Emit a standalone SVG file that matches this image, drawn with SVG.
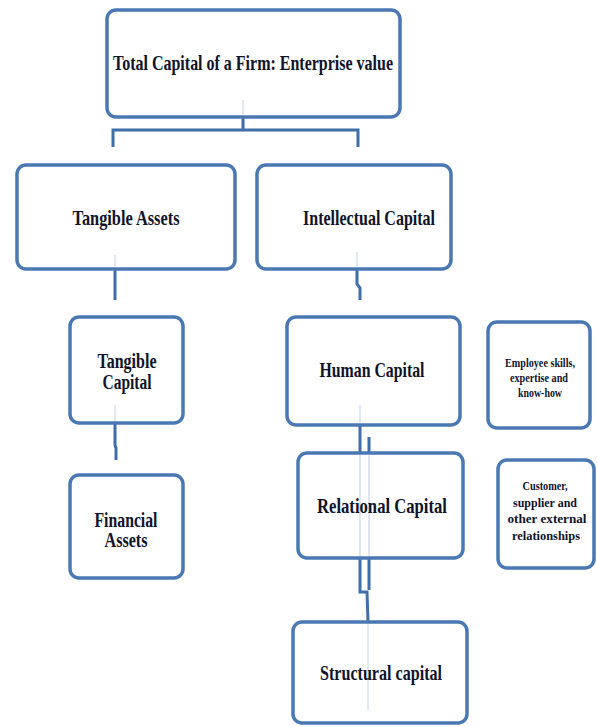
<svg xmlns="http://www.w3.org/2000/svg" width="597" height="727" viewBox="0 0 597 727">
  <style>
    .box { fill: #ffffff; stroke: #4a78b3; stroke-width: 3.5; }
    .link { fill: none; stroke: #3f6ea8; stroke-width: 3; }
    .ghost { fill: none; stroke: #d6e0ee; stroke-width: 1.5; }
    text { font-family: "Liberation Serif", "Times New Roman", serif; font-weight: bold; fill: #10142a; text-anchor: middle; }
    .big { font-size: 21px; }
    .mid { font-size: 20px; }
    .small { font-size: 13px; }
  </style>

  <rect width="597" height="727" fill="#ffffff"/>

  <!-- connectors -->
  <g id="connectors">
    <path class="link" d="M243,117 V130 M113,147 V130 H358 V147"/>
    <path class="link" d="M115,269 V300"/>
    <path class="link" d="M357,269 V284 L360,288 V300"/>
    <path class="link" d="M115,423 V445 L116,448 V460"/>
    <path class="link" d="M360,425 V458 M369,437 V455"/>
    <path class="link" d="M360,558 V592 H367 L368,622 M369,558 V590"/>
  </g>

  <g id="total-capital">
    <rect class="box" x="107" y="10" width="293" height="107" rx="9"/>
    <path class="ghost" d="M243,100 V115"/>
    <text class="big" x="253" y="70" textLength="280" lengthAdjust="spacingAndGlyphs">Total Capital of a Firm: Enterprise value</text>
  </g>

  <g id="tangible-assets">
    <rect class="box" x="17" y="165" width="218" height="104" rx="9"/>
    <path class="ghost" d="M115,255 V267"/>
    <text class="big" x="126" y="225" textLength="107" lengthAdjust="spacingAndGlyphs">Tangible Assets</text>
  </g>

  <g id="intellectual-capital">
    <rect class="box" x="257" y="165" width="194" height="104" rx="9"/>
    <path class="ghost" d="M357,252 V267"/>
    <text class="big" x="369" y="225" textLength="132" lengthAdjust="spacingAndGlyphs">Intellectual Capital</text>
  </g>

  <g id="tangible-capital">
    <rect class="box" x="70" y="317" width="113" height="106" rx="9"/>
    <path class="ghost" d="M115,405 V421"/>
    <text class="mid" x="127" y="368" textLength="59" lengthAdjust="spacingAndGlyphs">Tangible</text>
    <text class="mid" x="127" y="389" textLength="49" lengthAdjust="spacingAndGlyphs">Capital</text>
  </g>

  <g id="financial-assets">
    <rect class="box" x="70" y="475" width="113" height="103" rx="9"/>
    <text class="mid" x="126" y="527" textLength="63" lengthAdjust="spacingAndGlyphs">Financial</text>
    <text class="mid" x="126" y="547" textLength="43" lengthAdjust="spacingAndGlyphs">Assets</text>
  </g>

  <g id="human-capital">
    <rect class="box" x="287" y="317" width="173" height="108" rx="9"/>
    <path class="ghost" d="M360,405 V423"/>
    <text class="big" x="372" y="377" textLength="105" lengthAdjust="spacingAndGlyphs">Human Capital</text>
  </g>

  <g id="relational-capital">
    <rect class="box" x="298" y="453" width="165" height="105" rx="9"/>
    <path class="ghost" d="M360,455 V556 M369,455 V556"/>
    <text class="big" x="382" y="513" textLength="130" lengthAdjust="spacingAndGlyphs">Relational Capital</text>
  </g>

  <g id="structural-capital">
    <rect class="box" x="293" y="622" width="174" height="101" rx="9"/>
    <path class="ghost" d="M368,624 V710"/>
    <text class="big" x="381" y="680" textLength="122" lengthAdjust="spacingAndGlyphs">Structural capital</text>
  </g>

  <g id="human-capital-note">
    <rect class="box" x="488" y="322" width="102" height="106" rx="9"/>
    <text class="small" x="540" y="367" textLength="70" lengthAdjust="spacingAndGlyphs">Employee skills,</text>
    <text class="small" x="539" y="382" textLength="58" lengthAdjust="spacingAndGlyphs">expertise and</text>
    <text class="small" x="540" y="397" textLength="44" lengthAdjust="spacingAndGlyphs">know-how</text>
  </g>

  <g id="relational-capital-note">
    <rect class="box" x="498" y="460" width="96" height="108" rx="9"/>
    <text class="small" x="545" y="490" textLength="45" lengthAdjust="spacingAndGlyphs">Customer,</text>
    <text class="small" x="545" y="507" textLength="64" lengthAdjust="spacingAndGlyphs">supplier and</text>
    <text class="small" x="547" y="523" textLength="79" lengthAdjust="spacingAndGlyphs">other external</text>
    <text class="small" x="546" y="540" textLength="68" lengthAdjust="spacingAndGlyphs">relationships</text>
  </g>
</svg>
